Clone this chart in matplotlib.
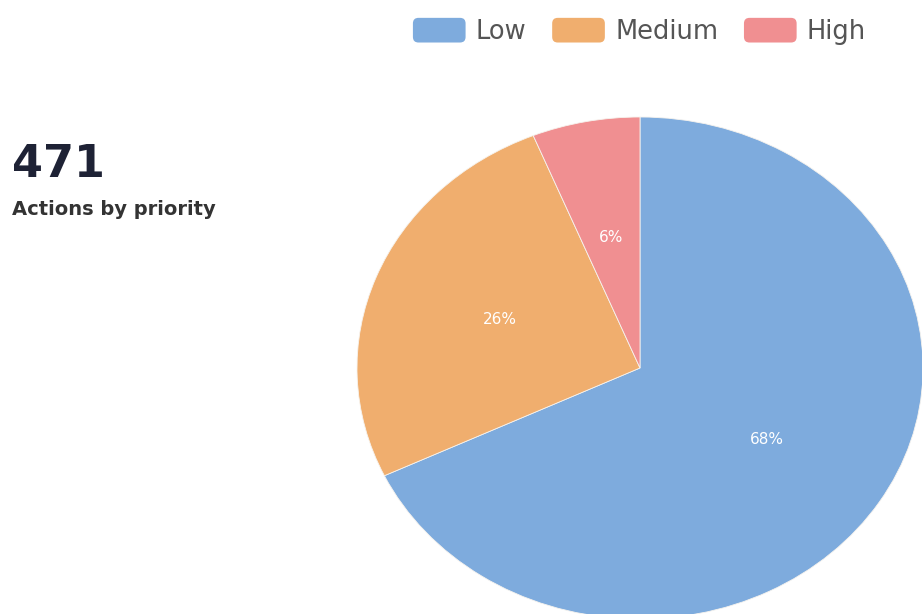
import matplotlib.pyplot as plt
from matplotlib.patches import Patch, FancyBboxPatch
from matplotlib.legend_handler import HandlerPatch

# data
categories = ["Low", "Medium", "High"]
counts = [320, 122, 29]
colors = ["#7eabdd", "#f0ae6e", "#f08f91"]
total = sum(counts)


class RoundBox(HandlerPatch):  # rounded legend swatches
    def create_artists(self, legend, orig_handle, xdescent, ydescent,
                       width, height, fontsize, trans):
        p = FancyBboxPatch((-xdescent, -ydescent), width, height,
                           boxstyle="round,pad=0,rounding_size=4",
                           facecolor=orig_handle.get_facecolor(),
                           edgecolor="none", transform=trans)
        return [p]


fig = plt.figure(figsize=(9.22, 6.14), dpi=100)

# pie axes (slightly stretched like the reference)
W, H = 922, 614
cx, cy, rx, ry = 640, 368, 283, 251
ax = fig.add_axes([(cx - rx) / W, (H - cy - ry) / H, 2 * rx / W, 2 * ry / H])
wedges, texts, autotexts = ax.pie(counts, colors=colors, startangle=90,
                                  counterclock=False,
                                  autopct=lambda p: "{:.0f}%".format(p),
                                  pctdistance=0.53,
                                  wedgeprops=dict(edgecolor="#f6f3ee", linewidth=0.6),
                                  textprops=dict(color="white", fontsize=11))
ax.set_aspect("auto")
ax.set_xlim(-1, 1)
ax.set_ylim(-1, 1)
ax.axis("off")

# big number + caption
fig.text(12 / W, 1 - 177 / H, str(total), fontsize=32, fontweight="bold",
         color="#1e2235", va="baseline", ha="left")
fig.text(12 / W, 1 - 215 / H, "Actions by priority", fontsize=14,
         fontweight="bold", color="#333333", va="baseline", ha="left")

# legend
handles = [Patch(facecolor=c) for c in colors]
fig.legend(handles, categories, handler_map={Patch: RoundBox()},
           loc="upper right", bbox_to_anchor=(879 / W, 1 - 5 / H),
           ncol=3, frameon=False, fontsize=18.5, labelcolor="#555555",
           handlelength=2.05, handleheight=1.1, handletextpad=0.4,
           columnspacing=1.0, borderpad=0)

fig.savefig("out.png", dpi=100, facecolor="white")
